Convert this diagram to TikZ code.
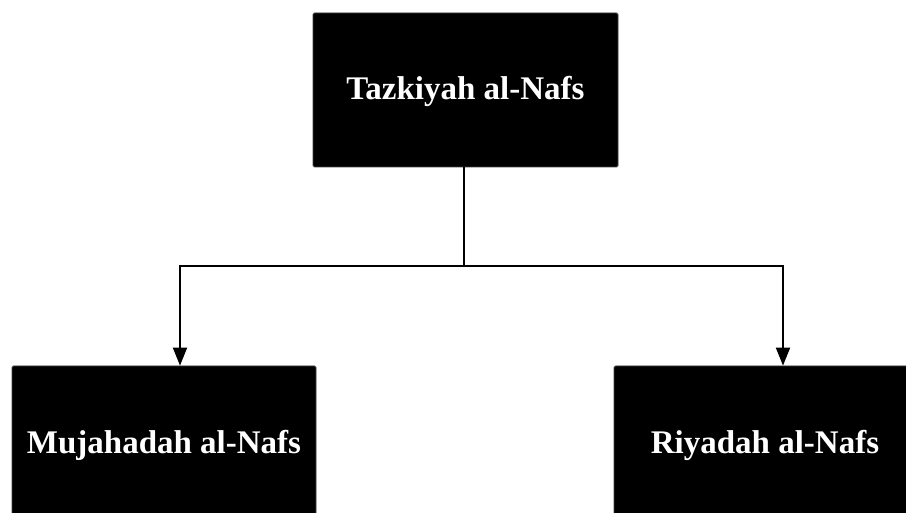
\documentclass[tikz,border=0pt]{standalone}
\usepackage{fontspec}
\setmainfont{Liberation Serif}
\usetikzlibrary{arrows.meta}
\begin{document}
\begin{tikzpicture}[x=1pt,y=-1pt,
  box/.style={draw=black!75, line width=0.8pt, fill=black, rounded corners=1.5pt, text=white,
    font=\fontsize{33}{36}\selectfont\bfseries, inner sep=0pt, text height=22pt, text depth=2pt},
  link/.style={line width=2pt},
  conn/.style={line width=2pt, -{Triangle[length=18pt,width=14pt]}}]
\useasboundingbox (0,0) rectangle (906,513);
\node[box, minimum width=305pt, minimum height=154pt] (top) at (465.5,90) {Tazkiyah al-Nafs};
\node[box, minimum width=304pt, minimum height=154pt] (left) at (164,443) {Mujahadah al-Nafs};
\node[box, minimum width=302pt, minimum height=154pt] (right) at (765,443) {Riyadah al-Nafs};
\coordinate (j) at (464,266);
\draw[link] (top.south -| j) -- (j);
\draw[conn] (j) -| ([xshift=16pt]left.north);
\draw[conn] (j) -| ([xshift=18pt]right.north);
\end{tikzpicture}
\end{document}
